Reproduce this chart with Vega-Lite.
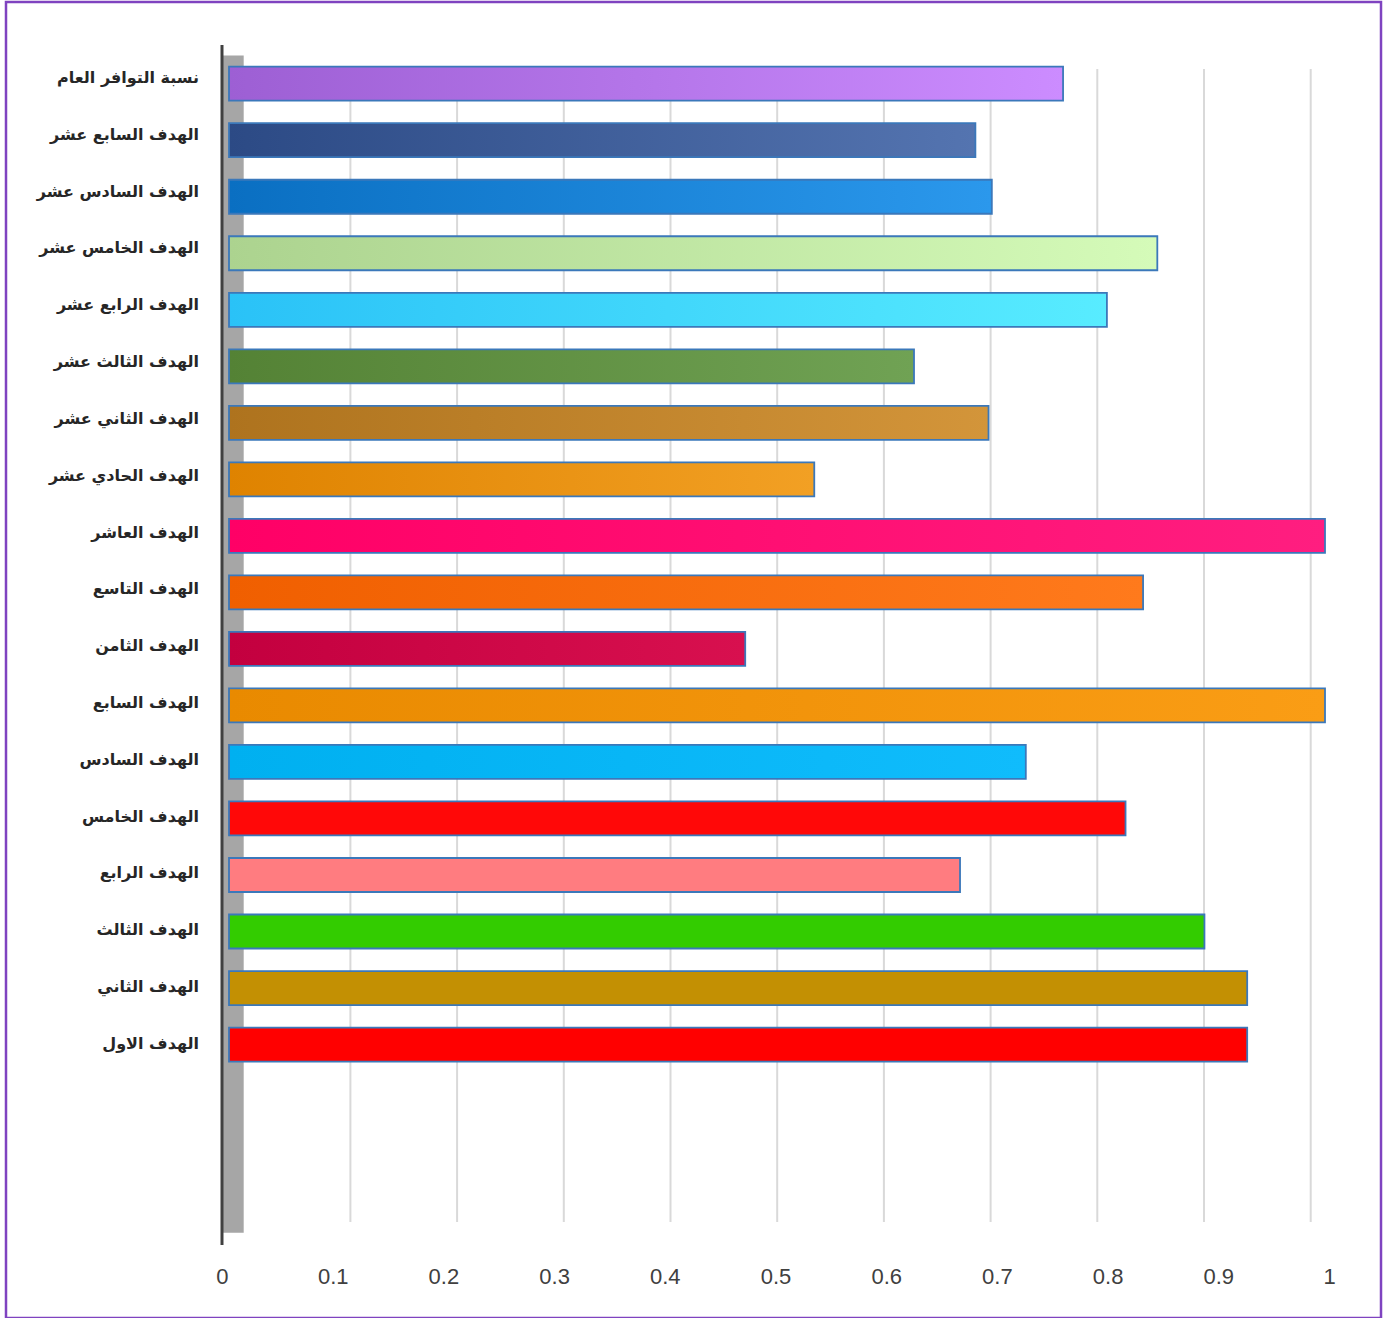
{
  "$schema": "https://vega.github.io/schema/vega-lite/v6.json",
  "width": 1375,
  "height": 1316,
  "padding": {"left": 6, "top": 2, "right": 8, "bottom": 0},
  "autosize": {"type": "none"},
  "background": "#ffffff",
  "config": {"view": {"stroke": "#7f43c0", "strokeWidth": 2.5}},
  "data": {"values": [
    {"i": 0, "name": "نسبة التوافر العام", "v": 0.761},
    {"i": 1, "name": "الهدف السابع عشر", "v": 0.681},
    {"i": 2, "name": "الهدف السادس عشر", "v": 0.696},
    {"i": 3, "name": "الهدف الخامس عشر", "v": 0.847},
    {"i": 4, "name": "الهدف الرابع عشر", "v": 0.801},
    {"i": 5, "name": "الهدف الثالث عشر", "v": 0.625},
    {"i": 6, "name": "الهدف الثاني عشر", "v": 0.693},
    {"i": 7, "name": "الهدف الحادي عشر", "v": 0.534},
    {"i": 8, "name": "الهدف العاشر", "v": 1.0},
    {"i": 9, "name": "الهدف التاسع", "v": 0.834},
    {"i": 10, "name": "الهدف الثامن", "v": 0.471},
    {"i": 11, "name": "الهدف السابع", "v": 1.0},
    {"i": 12, "name": "الهدف السادس", "v": 0.727},
    {"i": 13, "name": "الهدف الخامس", "v": 0.818},
    {"i": 14, "name": "الهدف الرابع", "v": 0.667},
    {"i": 15, "name": "الهدف الثالث", "v": 0.890},
    {"i": 16, "name": "الهدف الثاني", "v": 0.929},
    {"i": 17, "name": "الهدف الاول", "v": 0.929}
  ]},
  "resolve": {"scale": {"x": "independent", "y": "independent"}, "axis": {"x": "independent", "y": "independent"}},
  "layer": [
    {
      "layer": [
        {
          "data": {"values": [{"w": "wall"}]},
          "mark": {"type": "rect", "color": "#a6a6a6"},
          "encoding": {
            "x": {"datum": -0.0194, "type": "quantitative", "scale": {"domain": [-0.22277, 1.06588], "nice": false, "zero": false}, "axis": null},
            "x2": {"datum": 0},
            "y": {"datum": -0.5, "type": "quantitative", "scale": {"domain": [-1.4455, 21.838], "nice": false, "zero": false, "reverse": true, "padding": 0}, "axis": null},
            "y2": {"datum": 20.33}
          }
        },
        {
          "data": {"values": [{"t": 0.1}, {"t": 0.2}, {"t": 0.3}, {"t": 0.4}, {"t": 0.5}, {"t": 0.6}, {"t": 0.7}, {"t": 0.8}, {"t": 0.9}, {"t": 1.0}]},
          "mark": {"type": "rule", "color": "#d9d9d9", "strokeWidth": 2},
          "encoding": {
            "x": {"field": "t", "type": "quantitative", "scale": {"domain": [-0.22277, 1.06588], "nice": false, "zero": false}, "axis": null},
            "y": {"datum": -0.26, "type": "quantitative", "scale": {"domain": [-1.4455, 21.838], "nice": false, "zero": false, "reverse": true, "padding": 0}, "axis": null},
            "y2": {"datum": 20.14}
          }
        }
      ]
    },
    {
      "mark": {"type": "bar", "orient": "horizontal", "size": 34, "stroke": "#3b78ba", "strokeWidth": 1.8},
      "encoding": {
        "x": {"field": "v", "type": "quantitative", "scale": {"domain": [-0.20347, 1.05109], "nice": false, "zero": false}, "axis": null},
        "x2": {"datum": 0},
        "y": {"field": "i", "type": "quantitative", "scale": {"domain": [-1.4455, 21.838], "nice": false, "zero": false, "reverse": true, "padding": 0}, "axis": null},
        "fill": {
          "condition": [
            {"test": "datum.i == 0", "value": {"gradient": "linear", "stops": [{"offset": 0, "color": "#9d5fd4"}, {"offset": 1, "color": "#cc8cff"}]}},
            {"test": "datum.i == 1", "value": {"gradient": "linear", "stops": [{"offset": 0, "color": "#2c4a85"}, {"offset": 1, "color": "#5474b0"}]}},
            {"test": "datum.i == 2", "value": {"gradient": "linear", "stops": [{"offset": 0, "color": "#0a6fc2"}, {"offset": 1, "color": "#2b98ec"}]}},
            {"test": "datum.i == 3", "value": {"gradient": "linear", "stops": [{"offset": 0, "color": "#acd38f"}, {"offset": 1, "color": "#d5fbb9"}]}},
            {"test": "datum.i == 4", "value": {"gradient": "linear", "stops": [{"offset": 0, "color": "#2ac2f7"}, {"offset": 1, "color": "#58ecff"}]}},
            {"test": "datum.i == 5", "value": {"gradient": "linear", "stops": [{"offset": 0, "color": "#548235"}, {"offset": 1, "color": "#70a254"}]}},
            {"test": "datum.i == 6", "value": {"gradient": "linear", "stops": [{"offset": 0, "color": "#ae731e"}, {"offset": 1, "color": "#d3953a"}]}},
            {"test": "datum.i == 7", "value": {"gradient": "linear", "stops": [{"offset": 0, "color": "#df8300"}, {"offset": 1, "color": "#f2a024"}]}},
            {"test": "datum.i == 8", "value": {"gradient": "linear", "stops": [{"offset": 0, "color": "#ff0066"}, {"offset": 1, "color": "#ff1e80"}]}},
            {"test": "datum.i == 9", "value": {"gradient": "linear", "stops": [{"offset": 0, "color": "#f05f00"}, {"offset": 1, "color": "#ff7a1c"}]}},
            {"test": "datum.i == 10", "value": {"gradient": "linear", "stops": [{"offset": 0, "color": "#c3003f"}, {"offset": 1, "color": "#d8104f"}]}},
            {"test": "datum.i == 11", "value": {"gradient": "linear", "stops": [{"offset": 0, "color": "#e98a00"}, {"offset": 1, "color": "#fa9d15"}]}},
            {"test": "datum.i == 12", "value": {"gradient": "linear", "stops": [{"offset": 0, "color": "#00b0f0"}, {"offset": 1, "color": "#10bcfc"}]}},
            {"test": "datum.i == 13", "value": "#ff0808"},
            {"test": "datum.i == 14", "value": "#ff7c80"},
            {"test": "datum.i == 15", "value": "#33cc00"},
            {"test": "datum.i == 16", "value": "#c39003"}
          ],
          "value": "#ff0000"
        }
      }
    },
    {
      "mark": {"type": "text", "align": "right", "baseline": "middle", "font": "DejaVu Sans", "fontSize": 16, "fontWeight": "bold", "color": "#262626"},
      "encoding": {
        "x": {"datum": -0.0274, "type": "quantitative", "scale": {"domain": [-0.20347, 1.05109], "nice": false, "zero": false}, "axis": null},
        "y": {"field": "i", "type": "quantitative", "scale": {"domain": [-1.3376, 21.823], "nice": false, "zero": false, "reverse": true, "padding": 0}, "axis": null},
        "text": {"field": "name"}
      }
    },
    {
      "data": {"values": [{"w": "front"}]},
      "mark": {"type": "rule", "color": "#404040", "strokeWidth": 3},
      "encoding": {
        "x": {"datum": 0, "type": "quantitative", "scale": {"domain": [-0.19512, 1.04697], "nice": false, "zero": false},
          "axis": {"values": [0, 0.1, 0.2, 0.3, 0.4, 0.5, 0.6, 0.7, 0.8, 0.9, 1], "format": "~g", "orient": "bottom", "offset": -52, "domain": false, "ticks": false, "grid": false, "labelPadding": 0, "labelFont": "Liberation Sans", "labelFontSize": 22, "labelColor": "#404040", "title": null, "labelFlush": false, "labelOverlap": false}},
        "y": {"datum": -0.685, "type": "quantitative", "scale": {"domain": [-1.4455, 21.838], "nice": false, "zero": false, "reverse": true, "padding": 0}, "axis": null},
        "y2": {"datum": 20.547}
      }
    }
  ]
}
